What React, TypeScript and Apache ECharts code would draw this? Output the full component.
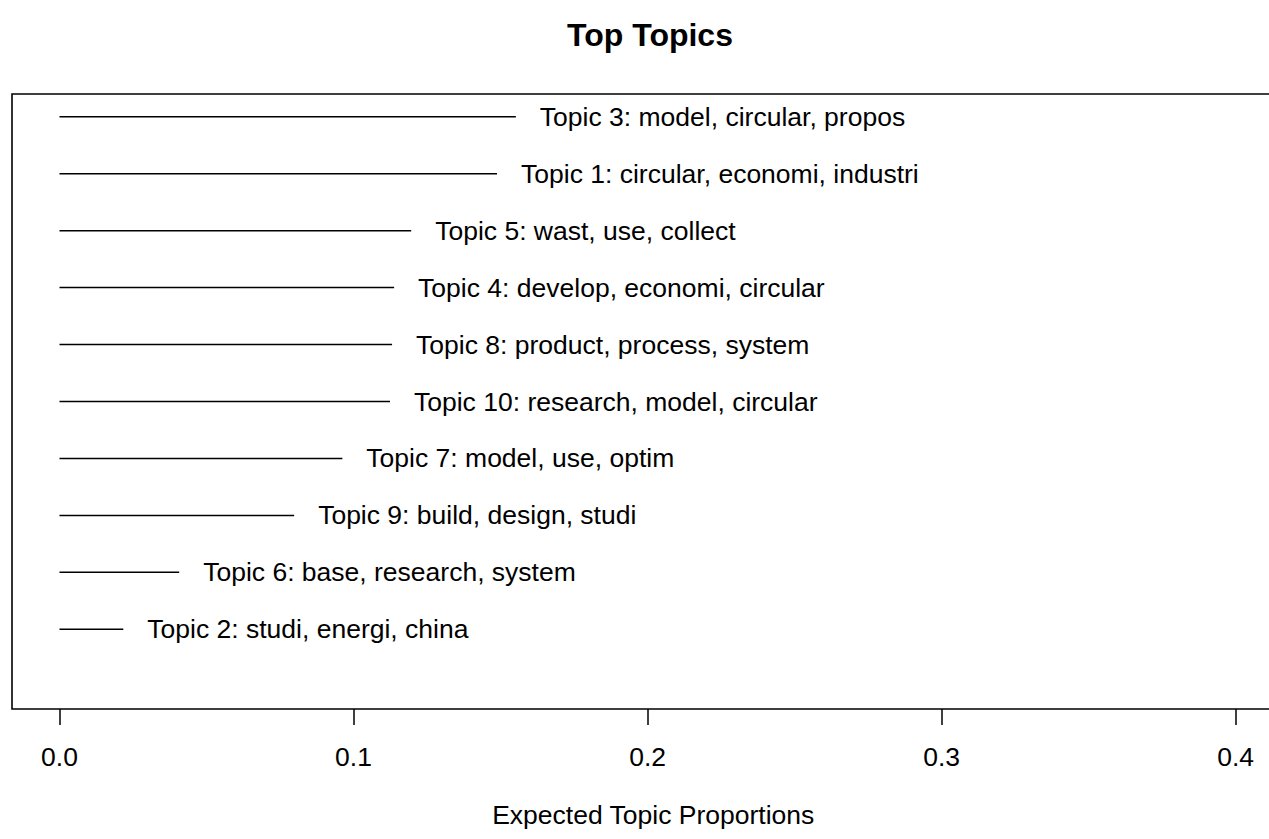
import React, { useEffect, useRef } from "react";
import * as echarts from "echarts";

const topicLabels = [
  "Topic 2: studi, energi, china",
  "Topic 6: base, research, system",
  "Topic 9: build, design, studi",
  "Topic 7: model, use, optim",
  "Topic 10: research, model, circular",
  "Topic 8: product, process, system",
  "Topic 4: develop, economi, circular",
  "Topic 5: wast, use, collect",
  "Topic 1: circular, economi, industri",
  "Topic 3: model, circular, propos",
];
const topicProportions = [0.0217, 0.0407, 0.0798, 0.0962, 0.1124, 0.1131, 0.1138, 0.1196, 0.1488, 0.1552];
const tickValues = [0, 0.1, 0.2, 0.3, 0.4];

const FONT = '"Liberation Sans", Arial, Helvetica, sans-serif';

export default function App() {
  const ref = useRef<HTMLDivElement>(null);
  useEffect(() => {
    if (!ref.current) return;
    const chart = echarts.init(ref.current, null, { renderer: "svg" });
    const data = topicProportions.map((v, i) => [v, i + 1]);
    chart.setOption({
      animation: false,
      backgroundColor: "#ffffff",
      textStyle: { fontFamily: FONT },
      graphic: [
        {
          type: "text",
          x: 650,
          y: 35,
          style: {
            text: "Top Topics",
            fill: "#000",
            font: `bold 32px ${FONT}`,
            align: "center",
            verticalAlign: "middle",
          },
        },
      ],
      grid: {
        left: 12,
        top: 94,
        width: 1282.5,
        height: 615,
        show: true,
        borderColor: "#000",
        borderWidth: 1.6,
        backgroundColor: "transparent",
        containLabel: false,
        outerBoundsMode: "none",
      },
      xAxis: {
        type: "value",
        min: -0.01615,
        max: 0.42,
        name: "Expected Topic Proportions",
        nameLocation: "middle",
        nameGap: 93,
        nameTextStyle: { fontSize: 26.5, color: "#000", fontFamily: FONT, lineHeight: 26 },
        axisLine: { show: false, onZero: false },
        splitLine: { show: false },
        axisTick: {
          show: true,
          length: 16,
          inside: false,
          customValues: tickValues,
          lineStyle: { color: "#000", width: 1.5 },
        },
        axisLabel: {
          show: true,
          customValues: tickValues,
          margin: 35,
          fontSize: 26.5,
          lineHeight: 26,
          color: "#000",
          fontFamily: FONT,
          formatter: (v: number) => v.toFixed(1),
        },
      },
      yAxis: {
        type: "value",
        min: -0.4,
        max: 10.4,
        show: false,
        splitLine: { show: false },
      },
      series: [
        {
          type: "custom",
          clip: false,
          data,
          renderItem: (params: any, api: any) => {
            const y = api.value(1);
            const start = api.coord([0, y]);
            const end = api.coord([api.value(0), y]);
            return {
              type: "group",
              children: [
                {
                  type: "line",
                  shape: { x1: start[0], y1: start[1], x2: end[0], y2: end[1] },
                  style: { stroke: "#000", lineWidth: 1.5 },
                },
                {
                  type: "text",
                  x: end[0] + 24,
                  y: end[1],
                  style: {
                    text: topicLabels[params.dataIndex],
                    fill: "#000",
                    font: `26.5px ${FONT}`,
                    align: "left",
                    verticalAlign: "middle",
                  },
                },
              ],
            };
          },
        },
      ],
    });
    return () => chart.dispose();
  }, []);
  return (
    <div
      ref={ref}
      style={{ position: "absolute", left: 0, top: 0, width: 1269, height: 839, background: "#fff" }}
    />
  );
}
